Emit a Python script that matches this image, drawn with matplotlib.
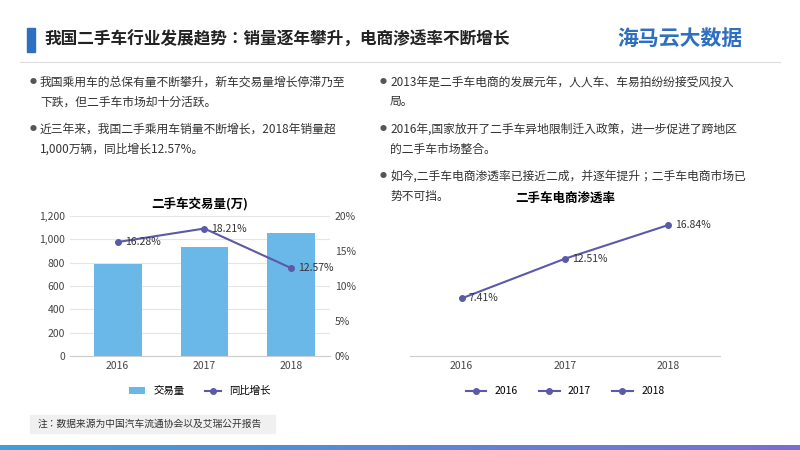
import matplotlib
matplotlib.use("Agg")
import matplotlib.pyplot as plt
from matplotlib import font_manager
from matplotlib.patches import Rectangle
from matplotlib.colors import LinearSegmentedColormap
import numpy as np

names = []
for f in font_manager.findSystemFonts():
    if 'CJK' in f or 'cjk' in f.lower():
        try:
            font_manager.fontManager.addfont(f)
            names.append(font_manager.FontProperties(fname=f).get_name())
        except Exception:
            pass
plt.rcParams['font.family'] = 'sans-serif'
plt.rcParams['font.sans-serif'] = ['Noto Sans CJK SC', 'Noto Sans CJK JP'] + names + ['DejaVu Sans']

years = ['2016', '2017', '2018']
volume = [790, 935, 1053]
growth = [16.28, 18.21, 12.57]
penetration = [7.41, 12.51, 16.84]

W, H = 800, 450
fig = plt.figure(figsize=(8, 4.5), dpi=100)
def fx(x): return x / W
def fy(y): return 1 - y / H

fig.patches.append(Rectangle((fx(27), fy(52)), fx(8), 24 / H, transform=fig.transFigure, color='#2e6fc0'))
fig.text(fx(44), fy(40), '我国二手车行业发展趋势：销量逐年攀升，电商渗透率不断增长', fontsize=12, weight='bold', va='center', color='#222222')
fig.text(fx(680), fy(38), '海马云大数据', fontsize=15, weight='bold', va='center', ha='center', color='#2e6fc0')
fig.lines.append(plt.Line2D([fx(20), fx(780)], [fy(62), fy(62)], transform=fig.transFigure, color='#dddddd', lw=0.8))

left = [(82, ['我国乘用车的总保有量不断攀升，新车交易量增长停滞乃至', '下跌，但二手车市场却十分活跃。']),
        (129, ['近三年来，我国二手乘用车销量不断增长，2018年销量超', '1,000万辆，同比增长12.57%。'])]
right = [(82, ['2013年是二手车电商的发展元年，人人车、车易拍纷纷接受风投入', '局。']),
         (129, ['2016年,国家放开了二手车异地限制迁入政策，进一步促进了跨地区', '的二手车市场整合。']),
         (176, ['如今,二手车电商渗透率已接近二成，并逐年提升；二手车电商市场已', '势不可挡。'])]
def para(xb, xt, y, lines):
    fig.text(fx(xb), fy(y), '●', fontsize=5, va='center', color='#555555')
    for i, ln in enumerate(lines):
        fig.text(fx(xt), fy(y + i * 20), ln, fontsize=8.5, va='center', color='#333333')
for y, t in left: para(30, 40, y, t)
for y, t in right: para(380, 390, y, t)

ax = fig.add_axes([fx(70), fy(356), fx(330 - 70), (356 - 216) / H])
x = np.arange(3)
ax.bar(x, volume, width=0.55, color='#6ab8e8', label='交易量')
ax.set_ylim(0, 1200)
ax.set_yticks(range(0, 1201, 200))
ax.set_yticklabels([f'{v:,}' for v in range(0, 1201, 200)])
ax.set_xlim(-0.55, 2.45)
ax.set_xticks(x); ax.set_xticklabels(years)
ax.grid(axis='y', color='#e5e5e5', lw=0.8); ax.set_axisbelow(True)
for s in ['top', 'right', 'left']: ax.spines[s].set_visible(False)
ax.spines['bottom'].set_color('#cccccc')
ax.tick_params(length=0, labelsize=7.5, colors='#444444')
ax2 = ax.twinx()
ax2.plot(x, growth, color='#5a5aa8', marker='o', ms=4, lw=1.5, label='同比增长')
ax2.set_ylim(0, 20)
ax2.set_yticks(range(0, 21, 5)); ax2.set_yticklabels([f'{v}%' for v in range(0, 21, 5)])
for s in ax2.spines.values(): s.set_visible(False)
ax2.tick_params(length=0, labelsize=7.5, colors='#444444')
for xi, g in zip(x, growth):
    ax2.text(xi + 0.08, g, f'{g:.2f}%', fontsize=7.5, va='center', color='#333333')
ax.set_title('二手车交易量(万)', fontsize=9, weight='bold', pad=6)
h1, l1 = ax.get_legend_handles_labels(); h2, l2 = ax2.get_legend_handles_labels()
ax.legend(h1 + h2, l1 + l2, loc='upper center', bbox_to_anchor=(0.5, -0.15), ncol=2, frameon=False, fontsize=7.5, handlelength=1.5)

ax3 = fig.add_axes([fx(410), fy(356), fx(720 - 410), (356 - 216) / H])
ax3.plot(x, penetration, color='#5a5aa8', marker='o', ms=4, lw=1.5)
ax3.set_ylim(0, 18)
ax3.set_xlim(-0.5, 2.5)
ax3.set_xticks(x); ax3.set_xticklabels(years)
ax3.set_yticks([])
for s in ['top', 'right', 'left']: ax3.spines[s].set_visible(False)
ax3.spines['bottom'].set_color('#cccccc')
ax3.tick_params(length=0, labelsize=7.5, colors='#444444')
for xi, p in zip(x, penetration):
    ax3.text(xi + 0.07, p, f'{p:.2f}%', fontsize=7.5, va='center', color='#333333')
fig.text(fx(565), fy(198), '二手车电商渗透率', fontsize=9, weight='bold', ha='center', va='center')
hs = [plt.Line2D([], [], color='#5a5aa8', marker='o', ms=4, lw=1.5) for _ in years]
ax3.legend(hs, years, loc='upper center', bbox_to_anchor=(0.5, -0.15), ncol=3, frameon=False, fontsize=7.5, handlelength=2)

fig.patches.append(Rectangle((fx(30), fy(433)), fx(245), 18 / H, transform=fig.transFigure, color='#f0f0f0'))
fig.text(fx(38), fy(424), '注：数据来源为中国汽车流通协会以及艾瑞公开报告', fontsize=7, va='center', color='#333333')
grad = np.linspace(0, 1, 256).reshape(1, -1)
gax = fig.add_axes([0, 0, 1, 5 / H]); gax.axis('off')
gax.imshow(grad, aspect='auto', cmap=LinearSegmentedColormap.from_list('g', ['#3aa0e0', '#7a6fd0']))

fig.savefig('out.png', dpi=100)
